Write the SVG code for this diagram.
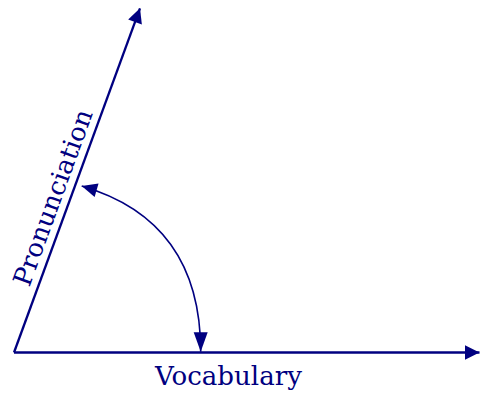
<svg xmlns="http://www.w3.org/2000/svg" width="480" height="394" viewBox="0 0 480 394">
<style>
.ax{stroke:#000080;stroke-width:2.3;fill:none}
.arc{stroke:#000080;stroke-width:1.6;fill:none}
.lbl{font-family:"DejaVu Serif","Liberation Serif",serif;font-size:25.5px;fill:#000080}
</style>
<defs>
<marker id="axh" markerUnits="userSpaceOnUse" markerWidth="20" markerHeight="20" viewBox="-18 -10 20 20" refX="0" refY="0" orient="auto"><path d="M0,0 L-14.5,-7.3 L-14.5,7.3 z" fill="#000080"/></marker>
<marker id="arcEnd" markerUnits="userSpaceOnUse" markerWidth="24" markerHeight="20" viewBox="-22 -10 24 20" refX="0" refY="0" orient="auto"><path d="M0,0 L-19.5,-7 L-19.5,7 z" fill="#000080"/></marker>
<marker id="arcStart" markerUnits="userSpaceOnUse" markerWidth="20" markerHeight="20" viewBox="-18 -10 20 20" refX="0" refY="0" orient="auto-start-reverse"><path d="M0,0 L-15.5,-7 L-15.5,7 z" fill="#000080"/></marker>
</defs>
<g id="connectors">
<path id="vocab-axis" class="ax" d="M14,352.5 L479.5,352.5" marker-end="url(#axh)"/>
<path id="pron-axis" class="ax" d="M14,352.5 L140,8.3" marker-end="url(#axh)"/>
<path id="angle-arc" class="arc" d="M81.7,186 C163.3,209.8 200.7,266.7 200.7,351.7" marker-start="url(#arcStart)" marker-end="url(#arcEnd)"/>
</g>
<g id="vocabulary">
<text class="lbl" x="155" y="385" textLength="147" lengthAdjust="spacingAndGlyphs">Vocabulary</text>
</g>
<g id="pronunciation">
<text class="lbl" transform="translate(14,352.5) rotate(-69.9)" x="66" y="-8" textLength="186" lengthAdjust="spacingAndGlyphs">Pronunciation</text>
</g>
</svg>
